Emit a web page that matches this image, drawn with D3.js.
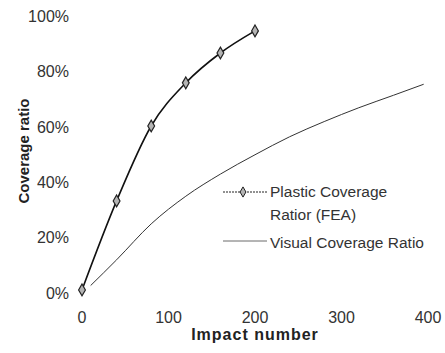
<!DOCTYPE html>
<meta charset="utf-8">
<head>
  <title>Coverage ratio</title>
  <script src="https://d3js.org/d3.v7.min.js"></script>
  <style>
    body { margin: 0; background: #fff; font-family: "Liberation Sans", Arial, sans-serif; }
    .tick-label { font-size: 16px; fill: #333; }
    .axis-title { font-size: 15px; font-weight: bold; fill: #222; }
    .legend-text { font-size: 15.5px; fill: #333; }
  </style>
</head>
<body>
<script>
  // Data
  var plasticX = [0, 40, 80, 120, 160, 200];
  var plasticY = [0.011, 0.333, 0.604, 0.76, 0.868, 0.948];
  var visualX = [10, 40, 80, 120, 160, 200, 240, 280, 320, 360, 395];
  var visualY = [0.027, 0.12, 0.25, 0.35, 0.43, 0.5, 0.565, 0.62, 0.67, 0.715, 0.755];
  var xTicks = [0, 100, 200, 300, 400];
  var yTicks = [0, 0.2, 0.4, 0.6, 0.8, 1];

  var width = 445, height = 353;

  var svg = d3.select("body").append("svg")
    .attr("width", width)
    .attr("height", height);

  var x = d3.scaleLinear().domain([0, 400]).range([82, 428]);
  var y = d3.scaleLinear().domain([0, 1]).range([293, 16.5]);

  // Y tick labels
  svg.append("g").selectAll("text")
    .data(yTicks)
    .enter().append("text")
    .attr("class", "tick-label")
    .attr("x", 69)
    .attr("y", function(d) { return y(d); })
    .attr("text-anchor", "end")
    .attr("dominant-baseline", "central")
    .text(d3.format(".0%"));

  // X tick labels
  svg.append("g").selectAll("text")
    .data(xTicks)
    .enter().append("text")
    .attr("class", "tick-label")
    .attr("x", function(d) { return x(d); })
    .attr("y", 323)
    .attr("text-anchor", "middle")
    .text(function(d) { return d; });

  // Axis titles
  svg.append("text")
    .attr("class", "axis-title")
    .attr("transform", "translate(29,151) rotate(-90)")
    .attr("text-anchor", "middle")
    .text("Coverage ratio");

  svg.append("text")
    .attr("class", "axis-title")
    .attr("x", 255)
    .attr("y", 340)
    .attr("text-anchor", "middle")
    .style("font-size", "16px")
    .style("letter-spacing", "1px")
    .text("Impact number");

  // Visual coverage curve
  var visualLine = d3.line()
    .x(function(d, i) { return x(visualX[i]); })
    .y(function(d) { return y(d); })
    .curve(d3.curveMonotoneX);

  svg.append("path")
    .datum(visualY)
    .attr("d", visualLine)
    .attr("fill", "none")
    .attr("stroke", "#333")
    .attr("stroke-width", 1);

  // Plastic coverage (FEA)
  var plasticLine = d3.line()
    .x(function(d, i) { return x(plasticX[i]); })
    .y(function(d) { return y(d); })
    .curve(d3.curveMonotoneX);

  svg.append("path")
    .datum(plasticY)
    .attr("d", plasticLine)
    .attr("fill", "none")
    .attr("stroke", "#111")
    .attr("stroke-width", 1.6);

  var diamond = d3.symbol().type(d3.symbolDiamond).size(40);

  svg.append("g").selectAll("path")
    .data(plasticY)
    .enter().append("path")
    .attr("d", diamond)
    .attr("transform", function(d, i) { return "translate(" + x(plasticX[i]) + "," + y(d) + ")"; })
    .attr("fill", "#b4b4b4")
    .attr("stroke", "#222")
    .attr("stroke-width", 1.2);

  // Legend
  var legend = svg.append("g");
  legend.append("line")
    .attr("x1", 223).attr("x2", 267)
    .attr("y1", 192).attr("y2", 192)
    .attr("stroke", "#222").attr("stroke-width", 1)
    .attr("stroke-dasharray", "2,1");
  legend.append("path")
    .attr("d", d3.symbol().type(d3.symbolDiamond).size(30))
    .attr("transform", "translate(243,192)")
    .attr("fill", "#b4b4b4")
    .attr("stroke", "#222")
    .attr("stroke-width", 1);
  legend.append("text")
    .attr("class", "legend-text")
    .attr("x", 270).attr("y", 191)
    .attr("dominant-baseline", "central")
    .text("Plastic Coverage");
  legend.append("text")
    .attr("class", "legend-text")
    .attr("x", 270).attr("y", 214)
    .attr("dominant-baseline", "central")
    .text("Ratior (FEA)");

  legend.append("line")
    .attr("x1", 223).attr("x2", 267)
    .attr("y1", 241).attr("y2", 241)
    .attr("stroke", "#444").attr("stroke-width", 0.8);
  legend.append("text")
    .attr("class", "legend-text")
    .attr("x", 270).attr("y", 242)
    .attr("dominant-baseline", "central")
    .text("Visual Coverage Ratio");
</script>
</body>
</html>
